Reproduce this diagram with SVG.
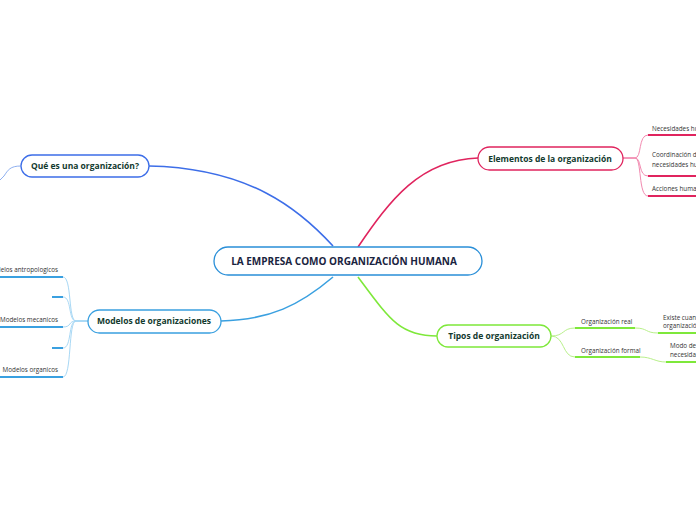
<svg xmlns="http://www.w3.org/2000/svg" width="696" height="520" viewBox="0 0 696 520">
<style>
.n{fill:#fff;stroke-width:1.3}
.t{font-family:"Open Sans","Liberation Sans",sans-serif;font-weight:bold;font-size:8.5px;fill:#123a2e}
.s{font-family:"Open Sans","Liberation Sans",sans-serif;font-size:6.3px;fill:#333}
.c{fill:none;stroke-width:1.6}
</style>
<rect width="696" height="520" fill="#fff"/>
<g id="connectors">
<path class="c" stroke="#3d6ee8" d="M149,166 C250,168 300,210 333,246"/>
<path fill="none" stroke="#8fb0f0" d="M21,166 C10,166 8,170 4,176 L0,180"/>
<path class="c" stroke="#e0245e" d="M358,247 C390,200 420,160 478,158"/>
<path class="c" stroke="#7ee83a" d="M358,277 C390,320 400,336 437,336"/>
<path class="c" stroke="#3aa0e0" d="M221,321 C270,320 300,305 333,277"/>
<g stroke="#f28ab0" fill="none">
<path d="M623,158 H635 C642,158 638,135 648,135"/>
<path d="M623,158 H635 C642,158 638,176 648,176"/>
<path d="M623,158 H635 C642,158 638,196 648,196"/>
</g>
<g stroke="#e0245e" stroke-width="2"><path d="M648,135 H696M648,176 H696M648,196 H696"/></g>
<g stroke="#b8f08a" fill="none">
<path d="M551,336 C565,336 562,328 575,328"/>
<path d="M551,336 C565,336 562,357 575,357"/>
<path d="M635,328 C648,328 645,333 658,333"/>
<path d="M640,357 C652,357 655,362 666,362"/>
</g>
<g stroke="#7ee83a" stroke-width="2"><path d="M575,328 H635M575,357 H640M658,333 H696M666,362 H696"/></g>
<g stroke="#a8d8f5" fill="none">
<path d="M88,321 H76 C68,321 72,277 63,277"/>
<path d="M88,321 H76 C68,321 72,297 63,297"/>
<path d="M88,321 H76 C68,321 72,327 63,327"/>
<path d="M88,321 H76 C68,321 72,348 63,348"/>
<path d="M88,321 H76 C68,321 72,377 63,377"/>
</g>
<g stroke="#3aa0e0" stroke-width="2"><path d="M0,277 H63M52,297 H63M0,327 H63M52,348 H63M0,377 H63"/></g>
</g>
<g id="central"><rect class="n" x="214" y="247" width="268" height="28" rx="14" stroke="#2a8fd8"/><text x="344" y="265" text-anchor="middle" class="t" style="font-size:10px;fill:#1a2440">LA EMPRESA COMO ORGANIZACIÓN HUMANA</text></g>
<g id="que"><rect class="n" x="21" y="155" width="128" height="22" rx="11" stroke="#3d6ee8"/><text x="85" y="169" text-anchor="middle" class="t">Qué es una organización?</text></g>
<g id="elementos"><rect class="n" x="478" y="147" width="145" height="23" rx="11.5" stroke="#e0245e"/><text x="550" y="162" text-anchor="middle" class="t">Elementos de la organización</text></g>
<g id="tipos"><rect class="n" x="437" y="325" width="114" height="22" rx="11" stroke="#7ee83a"/><text x="494" y="339" text-anchor="middle" class="t">Tipos de organización</text></g>
<g id="modelos"><rect class="n" x="88" y="310" width="133" height="23" rx="11.5" stroke="#3aa0e0"/><text x="154" y="324" text-anchor="middle" class="t">Modelos de organizaciones</text></g>
<g id="leaves">
<text x="652" y="131" class="s">Necesidades humanas</text>
<text x="652" y="157" class="s">Coordinación de</text>
<text x="652" y="167" class="s">necesidades humanas</text>
<text x="652" y="191" class="s">Acciones humanas</text>
<text x="581" y="324" class="s">Organización real</text>
<text x="581" y="353" class="s">Organización formal</text>
<text x="663" y="320" class="s">Existe cuando</text>
<text x="663" y="328" class="s">organización</text>
<text x="670" y="348" class="s">Modo de</text>
<text x="670" y="357" class="s">necesidades</text>
<text x="58" y="272" text-anchor="end" class="s">Modelos antropologicos</text>
<text x="58" y="322" text-anchor="end" class="s">Modelos mecanicos</text>
<text x="58" y="372" text-anchor="end" class="s">Modelos organicos</text>
</g>
</svg>
